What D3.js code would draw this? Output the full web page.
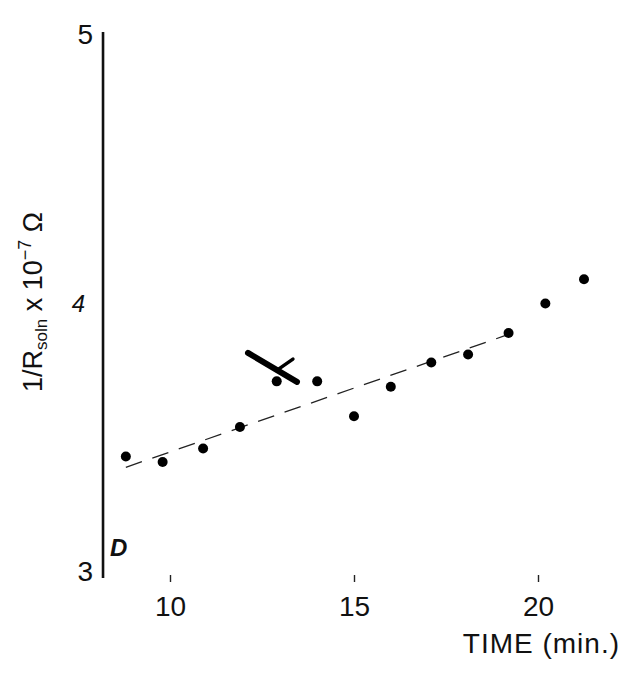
<!DOCTYPE html>
<html>
<head>
<meta charset="utf-8">
<script src="https://cdn.jsdelivr.net/npm/d3@7"></script>
<style>
  html, body { margin: 0; padding: 0; background: #fff; }
  svg { display: block; }
  text { font-family: "Liberation Sans", Arial, sans-serif; fill: #111; }
</style>
</head>
<body>
<svg id="chart" width="621" height="677"></svg>
<script>
// Measured conductance (1/R) against time
const times = [8.8, 9.8, 10.9, 11.9, 12.9, 14.0, 15.0, 16.0, 17.1, 18.1, 19.2, 20.2, 21.25];
const values = [3.43, 3.41, 3.46, 3.54, 3.71, 3.71, 3.58, 3.69, 3.78, 3.81, 3.89, 4.00, 4.09];

// Dashed trend line end points
const trendX = [8.8, 19.1];
const trendY = [3.39, 3.88];

// Hand-drawn cross marking one reading: [x1, y1, x2, y2]
const crossStrokes = [
  [12.12, 3.816, 13.45, 3.708],
  [12.91, 3.752, 13.34, 3.793]
];

const xTicks = [10, 15, 20];
const yTicks = [3, 4, 5];

const svg = d3.select("#chart");

const x = d3.scaleLinear().domain([10, 20]).range([170, 538]);
const y = d3.scaleLinear().domain([3, 5]).range([572, 35]);

const axisX = x(8.18);

// Vertical axis
const yAxis = d3.axisLeft(y).tickValues(yTicks).tickSize(0).tickPadding(10)
  .tickFormat(d3.format("d"));
const gy = svg.append("g").attr("transform", `translate(${axisX},0)`).call(yAxis);
gy.select(".domain").attr("d", `M0,${y(5) - 3}V${y(3) + 6}`)
  .attr("stroke", "#111").attr("stroke-width", 2.6);
gy.selectAll(".tick text").attr("font-size", 28).attr("fill", "#111")
  .attr("font-family", "Liberation Sans, Arial, sans-serif");
gy.selectAll(".tick").filter(d => d === 4).select("text")
  .attr("font-size", 24).attr("dx", -8).attr("font-style", "italic");

// Horizontal axis: ticks and labels only
const xAxis = d3.axisBottom(x).tickValues(xTicks).tickSize(7).tickPadding(14)
  .tickFormat(d3.format("d"));
const gx = svg.append("g").attr("transform", `translate(0,${y(3) + 3})`).call(xAxis);
gx.select(".domain").remove();
gx.selectAll(".tick line").attr("stroke", "#222").attr("stroke-width", 1.4);
gx.selectAll(".tick text").attr("font-size", 28).attr("fill", "#111")
  .attr("font-family", "Liberation Sans, Arial, sans-serif");

// Axis titles
svg.append("text")
  .attr("x", 620).attr("y", 653)
  .attr("text-anchor", "end")
  .attr("font-size", 28)
  .attr("letter-spacing", 1)
  .text("TIME (min.)");

const yl = svg.append("text")
  .attr("transform", `translate(42,302) rotate(-90)`)
  .attr("text-anchor", "middle")
  .attr("font-size", 27);
yl.append("tspan").text("1/R");
yl.append("tspan").attr("font-size", 17).attr("dy", 5).text("soln");
yl.append("tspan").attr("dy", -5).text(" x 10");
yl.append("tspan").attr("font-size", 18).attr("dy", -11).text("−7");
yl.append("tspan").attr("dy", 11).text(" Ω");

// Panel letter
svg.append("text")
  .attr("x", 110).attr("y", 556)
  .attr("font-size", 24)
  .attr("font-style", "italic")
  .attr("font-weight", "bold")
  .text("D");

// Trend line
svg.append("line")
  .attr("x1", x(trendX[0])).attr("y1", y(trendY[0]))
  .attr("x2", x(trendX[1])).attr("y2", y(trendY[1]))
  .attr("stroke", "#222").attr("stroke-width", 1.3)
  .attr("stroke-dasharray", "17,11");

// Data points
svg.append("g").selectAll("circle")
  .data(times.map((t, i) => [t, values[i]]))
  .join("circle")
  .attr("cx", d => x(d[0])).attr("cy", d => y(d[1]))
  .attr("r", 5).attr("fill", "#000");

// Cross
svg.append("g").selectAll("line")
  .data(crossStrokes)
  .join("line")
  .attr("x1", d => x(d[0])).attr("y1", d => y(d[1]))
  .attr("x2", d => x(d[2])).attr("y2", d => y(d[3]))
  .attr("stroke", "#000")
  .attr("stroke-linecap", "round")
  .attr("stroke-width", (d, i) => i === 0 ? 6 : 3.5);
</script>
</body>
</html>
